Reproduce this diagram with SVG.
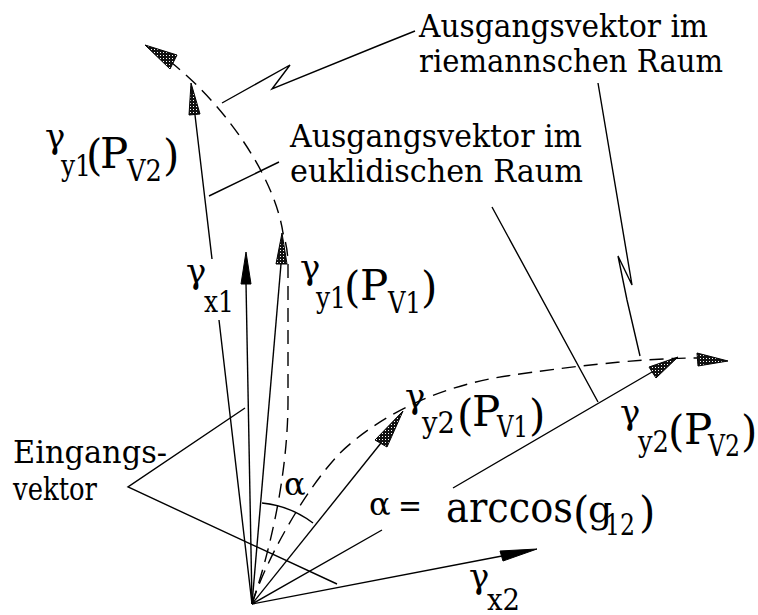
<svg xmlns="http://www.w3.org/2000/svg" width="758" height="615" viewBox="0 0 758 615">
<defs>
<pattern id="stip" width="3" height="3" patternUnits="userSpaceOnUse">
<rect width="3" height="3" fill="#111"/>
<rect x="1" y="1" width="1" height="1" fill="#fff"/>
</pattern>
</defs>
<style>
.ln{fill:none;stroke:#000;stroke-width:1.4}
.ds{fill:none;stroke:#000;stroke-width:1.4;stroke-dasharray:14 8}
.hs{fill:url(#stip);stroke:#000;stroke-width:1}
.hb{fill:#000;stroke:#000;stroke-width:1}
text{font-family:"DejaVu Serif","Liberation Serif",serif;fill:#000}
.t{font-size:32px}
.g{font-size:34px}
.s{font-size:30px}
.p{font-size:42px}
</style>
<rect width="758" height="615" fill="#fff"/>
<g id="connectors">
<!-- euclidean vectors -->
<path class="ln" d="M252,604 L219,320 M212,259 L195,115"/>
<polygon class="hs" points="191,83 189,115 200,114"/>
<path class="ln" d="M252,604 L246,283"/>
<polygon class="hb" points="246,252 241,284 251,284"/>
<path class="ln" d="M252,604 L281,264"/>
<polygon class="hs" points="282,233 276,264 287,264"/>
<path class="ln" d="M252,604 L381,443"/>
<polygon class="hs" points="403,411 375,440 387,447"/>
<path class="ln" d="M252,604 L382,530 M453,488 L652,372"/>
<polygon class="hs" points="678,357 649,367 656,378"/>
<path class="ln" d="M252,604 L502,556"/>
<polygon class="hb" points="537,549 500,551 503,561"/>
<!-- riemannian vectors -->
<path class="ds" d="M252,604 C272,545 288,470 288,400 L288,265 C288,250 285,240 283,233 C275,180 230,110 172,63"/>
<polygon class="hs" points="145,45 177,55 170,69"/>
<path class="ds" d="M252,604 C262,570 300,495 340,453 C380,415 440,385 513,375 C560,368 640,358 697,358"/>
<polygon class="hs" points="697,353 698,366 728,361"/>
<!-- angle arc -->
<path class="ln" d="M262,503 A101,101 0 0 1 313,523"/>
<!-- leader lines -->
<polyline class="ln" points="245,408 128,487 337,584"/>
<path class="ln" d="M279,162 L209,196 M492,207 L598,402"/>
<polyline class="ln" points="415,31 380,45 272,89 290,65 222,103"/>
<polyline class="ln" points="598,83 632,285 618,256 627,300 640,356"/>
</g>
<g id="label-riemann">
<text class="t" x="419" y="37" textLength="289" lengthAdjust="spacingAndGlyphs">Ausgangsvektor im</text>
<text class="t" x="419" y="72" textLength="304" lengthAdjust="spacingAndGlyphs">riemannschen Raum</text>
</g>
<g id="label-euklid">
<text class="t" x="290" y="147" textLength="292" lengthAdjust="spacingAndGlyphs">Ausgangsvektor im</text>
<text class="t" x="290" y="182" textLength="293" lengthAdjust="spacingAndGlyphs">euklidischen Raum</text>
</g>
<g id="label-eingang">
<text class="t" x="13" y="463" textLength="154" lengthAdjust="spacingAndGlyphs">Eingangs-</text>
<text class="t" x="13" y="500" textLength="84" lengthAdjust="spacingAndGlyphs">vektor</text>
</g>
<g id="label-gy1pv2">
<text class="g" x="45" y="148">γ</text>
<text class="s" x="61" y="176" textLength="30" lengthAdjust="spacingAndGlyphs">y1</text>
<text class="p" x="86" y="170">(</text>
<text class="p" x="100" y="168">P</text>
<text class="s" x="127" y="181" textLength="35" lengthAdjust="spacingAndGlyphs">V2</text>
<text class="p" x="163" y="170">)</text>
</g>
<g id="label-gx1">
<text class="g" x="186" y="283">γ</text>
<text class="s" x="204" y="312" textLength="30" lengthAdjust="spacingAndGlyphs">x1</text>
</g>
<g id="label-gy1pv1">
<text class="g" x="300" y="279">γ</text>
<text class="s" x="316" y="308" textLength="30" lengthAdjust="spacingAndGlyphs">y1</text>
<text class="p" x="344" y="302">(</text>
<text class="p" x="360" y="300">P</text>
<text class="s" x="388" y="313" textLength="33" lengthAdjust="spacingAndGlyphs">V1</text>
<text class="p" x="421" y="302">)</text>
</g>
<g id="label-gy2pv1">
<text class="g" x="405" y="408">γ</text>
<text class="s" x="422" y="433" textLength="33" lengthAdjust="spacingAndGlyphs">y2</text>
<text class="p" x="457" y="430">(</text>
<text class="p" x="472" y="426">P</text>
<text class="s" x="497" y="437" textLength="31" lengthAdjust="spacingAndGlyphs">V1</text>
<text class="p" x="529" y="430">)</text>
</g>
<g id="label-gy2pv2">
<text class="g" x="620" y="424">γ</text>
<text class="s" x="638" y="452" textLength="31" lengthAdjust="spacingAndGlyphs">y2</text>
<text class="p" x="668" y="446">(</text>
<text class="p" x="684" y="444">P</text>
<text class="s" x="708" y="456" textLength="32" lengthAdjust="spacingAndGlyphs">V2</text>
<text class="p" x="741" y="446">)</text>
</g>
<g id="label-gx2">
<text class="g" x="469" y="588">γ</text>
<text class="s" x="487" y="610" textLength="33" lengthAdjust="spacingAndGlyphs">x2</text>
</g>
<g id="label-alpha">
<text x="284" y="495" font-size="32">α</text>
</g>
<g id="label-arccos">
<text x="369" y="515" font-size="32">α</text>
<text x="398" y="517" font-size="32" textLength="24" lengthAdjust="spacingAndGlyphs">=</text>
<text x="446" y="522" font-size="42" textLength="127" lengthAdjust="spacingAndGlyphs">arccos</text>
<text class="p" x="573" y="527">(</text>
<text x="588" y="522" font-size="38">g</text>
<text class="s" x="605" y="535" textLength="30" lengthAdjust="spacingAndGlyphs">12</text>
<text class="p" x="639" y="527">)</text>
</g>
</svg>
